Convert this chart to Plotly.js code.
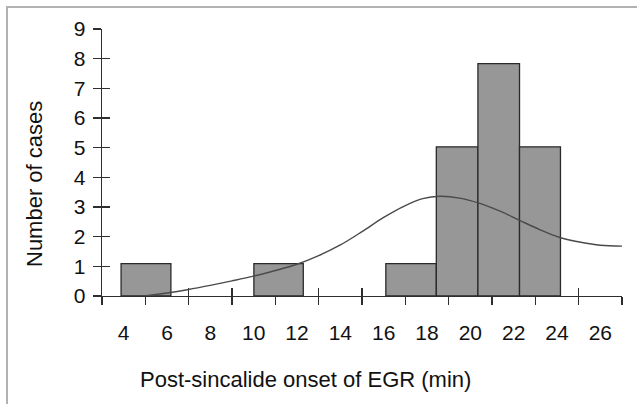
<!DOCTYPE html>
<html>
<head>
<meta charset="utf-8">
<script src="https://cdn.plot.ly/plotly-3.0.1.min.js"></script>
<style>
  html, body { margin: 0; padding: 0; background: #fff; }
  #wrap { position: relative; width: 637px; height: 404px; overflow: hidden; }
  #chart { position: absolute; left: 0; top: 0; width: 637px; height: 404px; }
  #frame { position: absolute; left: 6px; top: 6px; width: 640px; height: 410px;
           border-left: 2px solid #b2b2b2; border-top: 2px solid #b2b2b2; pointer-events: none; }
</style>
</head>
<body>
<div id="wrap">
  <div id="chart"></div>
  <div id="frame"></div>
</div>
<script>
// ---- data ----
var binStart = [3.88, 10.01, 16.10, 18.43, 20.35, 22.27];
var binEnd   = [6.18, 12.29, 18.43, 20.35, 22.27, 24.16];
var counts   = [1.09, 1.09, 1.09, 5.03, 7.83, 5.03];

var curveX = [4.98, 6.0, 7.0, 8.0, 9.0, 10.0, 11.0, 12.0, 13.0, 14.0, 15.0, 16.0, 17.0, 17.8, 18.6, 19.5, 20.4, 21.4, 22.3, 23.2, 24.1, 25.1, 26.0, 27.0];
var curveY = [0.00, 0.10, 0.22, 0.36, 0.51, 0.67, 0.86, 1.07, 1.36, 1.72, 2.17, 2.65, 3.05, 3.28, 3.36, 3.30, 3.13, 2.85, 2.54, 2.24, 1.98, 1.81, 1.71, 1.68];

var xTickMarks  = [3, 5, 7, 9, 11, 13, 15, 17, 19, 21, 23, 25, 27];
var xLabelVals  = [4, 6, 8, 10, 12, 14, 16, 18, 20, 22, 24, 26];
var yTickVals   = [0, 1, 2, 3, 4, 5, 6, 7, 8, 9];

var xTitle = "Post-sincalide onset of EGR (min)";
var yTitle = "Number of cases";

// ---- build traces ----
var centers = binStart.map(function (s, i) { return (s + binEnd[i]) / 2; });
var widths  = binStart.map(function (s, i) { return binEnd[i] - s; });

var W = 637, H = 404;
var M = { l: 102, r: 15, t: 29, b: 108 };
var XR = [3, 27], YR = [0, 9];
var FONT = "Liberation Sans, Arial, sans-serif";
var AX = "#2e2e2e";
var TICKSIZE = 21;

var traces = [
  {
    type: "bar", x: centers, y: counts, width: widths,
    xaxis: "x", yaxis: "y",
    marker: { color: "#979797", line: { color: "#2a2a2a", width: 1.3 } },
    hoverinfo: "skip", showlegend: false
  },
  {
    type: "scatter", mode: "lines", x: curveX, y: curveY,
    xaxis: "x2", yaxis: "y2",
    line: { color: "#4a4a4a", width: 1.4, shape: "spline", smoothing: 1 },
    hoverinfo: "skip", showlegend: false
  },
  {
    type: "scatter", mode: "markers", x: xLabelVals, y: xLabelVals.map(function () { return null; }),
    xaxis: "x3", yaxis: "y",
    marker: { opacity: 0 }, hoverinfo: "skip", showlegend: false
  }
];

function pxToPaperX(px) { return (px - M.l) / (W - M.l - M.r); }
function pxToPaperY(py) { return (H - M.b - py) / (H - M.t - M.b); }

var layout = {
  width: W, height: H,
  margin: M,
  paper_bgcolor: "#ffffff", plot_bgcolor: "#ffffff",
  font: { family: FONT, color: "#111", size: TICKSIZE },
  showlegend: false,
  bargap: 0,
  xaxis: {
    range: XR, fixedrange: true, showgrid: false, zeroline: false,
    showline: true, linecolor: AX, linewidth: 1.3,
    tickmode: "array", tickvals: xTickMarks, ticktext: xTickMarks.map(function () { return ""; }),
    ticks: "outside", ticklen: 8, tickwidth: 1.3, tickcolor: AX
  },
  xaxis2: {
    overlaying: "x", anchor: "y", side: "bottom", range: XR, fixedrange: true,
    showgrid: false, zeroline: false, showline: false, layer: "below traces",
    tickmode: "array", tickvals: xTickMarks.slice(1), showticklabels: false,
    ticks: "inside", ticklen: 8, tickwidth: 1.3, tickcolor: AX
  },
  xaxis3: {
    overlaying: "x", anchor: "y", side: "bottom", range: XR, fixedrange: true,
    showgrid: false, zeroline: false, showline: false,
    tickmode: "array", tickvals: xLabelVals, ticktext: xLabelVals.map(String),
    ticks: "outside", ticklen: 8, tickcolor: "rgba(0,0,0,0)",
    ticklabelstandoff: 10,
    tickfont: { family: FONT, size: TICKSIZE, color: "#111" }
  },
  yaxis: {
    range: YR, fixedrange: true, showgrid: false, zeroline: false,
    showline: true, linecolor: AX, linewidth: 1.3,
    tickmode: "array", tickvals: yTickVals, ticktext: yTickVals.map(String),
    ticks: "outside", ticklen: 8, tickwidth: 1.3, tickcolor: AX,
    ticklabelstandoff: 3,
    tickfont: { family: FONT, size: TICKSIZE, color: "#111" }
  },
  yaxis2: {
    overlaying: "y", anchor: "x", side: "left", range: YR, fixedrange: true,
    showgrid: false, zeroline: false, showline: false, layer: "below traces",
    tickmode: "array", tickvals: yTickVals.slice(1), showticklabels: false,
    ticks: "inside", ticklen: 8, tickwidth: 1.3, tickcolor: AX
  },
  annotations: [
    {
      text: yTitle, textangle: -90, showarrow: false,
      xref: "paper", yref: "paper", x: pxToPaperX(34), y: pxToPaperY(184),
      xanchor: "center", yanchor: "middle",
      font: { family: FONT, size: 22, color: "#111" }
    },
    {
      text: xTitle, showarrow: false,
      xref: "paper", yref: "paper", x: pxToPaperX(305.5), y: pxToPaperY(380),
      xanchor: "center", yanchor: "middle",
      font: { family: FONT, size: 22, color: "#111" }
    }
  ]
};

Plotly.newPlot("chart", traces, layout, { staticPlot: true, displayModeBar: false });
</script>
</body>
</html>
